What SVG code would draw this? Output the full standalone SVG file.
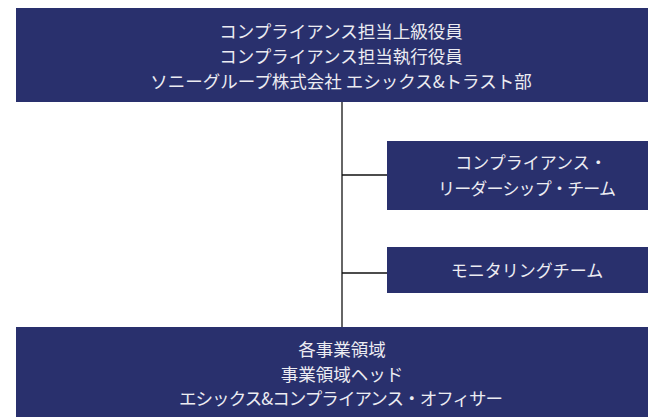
<svg xmlns="http://www.w3.org/2000/svg" width="648" height="417" viewBox="0 0 648 417">
<style>
.box{fill:#29306D;}
.t{font-family:"Noto Sans CJK JP","Noto Sans",sans-serif;font-size:17.5px;fill:#ECECF2;text-anchor:middle;}
.s{font-size:17px;}
</style>
<rect width="648" height="417" fill="#FFFFFF"/>
<g id="connectors">
<line x1="342" y1="102" x2="342" y2="327" stroke="#666666" stroke-width="2"/>
<line x1="342" y1="175" x2="387" y2="175" stroke="#111111" stroke-width="1.5"/>
<line x1="342" y1="273" x2="387" y2="273" stroke="#111111" stroke-width="1.5"/>
</g>
<g id="node-top">
<rect class="box" x="16" y="8" width="640" height="94"/>
<text class="t" x="341" y="38">コンプライアンス担当上級役員</text>
<text class="t" x="341" y="63">コンプライアンス担当執行役員</text>
<text class="t" x="341" y="88">ソニーグループ株式会社 エシックス&amp;トラスト部</text>
</g>
<g id="node-leadership">
<rect class="box" x="387" y="141" width="270" height="69"/>
<text class="t s" x="531" y="169">コンプライアンス・</text>
<text class="t s" x="527" y="194.5" textLength="178" lengthAdjust="spacing">リーダーシップ・チーム</text>
</g>
<g id="node-monitoring">
<rect class="box" x="387" y="247" width="270" height="46"/>
<text class="t s" x="527" y="276.5">モニタリングチーム</text>
</g>
<g id="node-bottom">
<rect class="box" x="16" y="327" width="640" height="95"/>
<text class="t" x="342" y="356">各事業領域</text>
<text class="t" x="342" y="381">事業領域ヘッド</text>
<text class="t" x="341" y="405" textLength="324" lengthAdjust="spacing">エシックス&amp;コンプライアンス・オフィサー</text>
</g>
</svg>
